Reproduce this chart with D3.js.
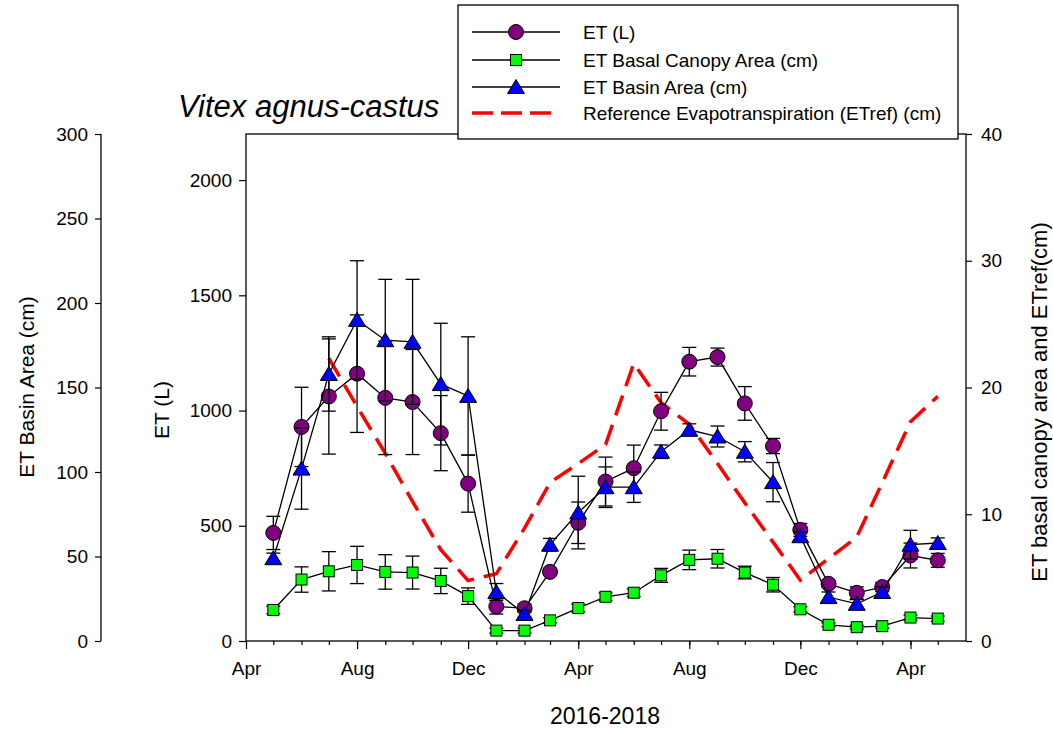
<!DOCTYPE html>
<html>
<head>
<meta charset="utf-8">
<script src="https://cdn.jsdelivr.net/npm/d3@7"></script>
<style>
  body { margin: 0; background: #fff; }
  svg { display: block; font-family: "Liberation Sans", Arial, sans-serif; }
</style>
</head>
<body>
<svg id="chart" width="1053" height="731"></svg>
<script>
// monthly sampling dates
var months = ["2016-05-01", "2016-06-01", "2016-07-01", "2016-08-01", "2016-09-01",
  "2016-10-01", "2016-11-01", "2016-12-01", "2017-01-01", "2017-02-01", "2017-03-01",
  "2017-04-01", "2017-05-01", "2017-06-01", "2017-07-01", "2017-08-01", "2017-09-01",
  "2017-10-01", "2017-11-01", "2017-12-01", "2018-01-01", "2018-02-01", "2018-03-01",
  "2018-04-01", "2018-05-01"];

// ET (L), left inner axis
var etL = [469, 929, 1061, 1160, 1055, 1037, 902, 683, 150, 142, 300, 513, 692, 750,
  997, 1212, 1232, 1031, 846, 482, 248, 209, 234, 371, 350];
var etLErr = [72, 172, 250, 255, 246, 228, 163, 124, 33, 18, 15, 90, 106, 100, 82, 62,
  39, 73, 33, 28, 15, 26, 20, 54, 30];

// ET basin area (cm), left outer axis
var basin = [49, 102, 158, 190, 178, 177, 152, 145, 29, 16, 57, 76, 91, 91, 112, 125,
  121, 112, 94, 62, 26, 22, 29, 57, 58];
var basinErr = [3, 24, 22, 35, 36, 37, 36, 35, 5, 2, 3.7, 21.5, 12, 9, 4, 3.5, 6.2, 6,
  11.6, 2.5, 3, 2.5, 3, 8.5, 3];

// ET basal canopy area (cm), right axis
var canopy = [2.45, 4.85, 5.5, 6.0, 5.45, 5.4, 4.74, 3.54, 0.82, 0.82, 1.63, 2.6, 3.49,
  3.81, 5.18, 6.4, 6.49, 5.4, 4.44, 2.5, 1.28, 1.09, 1.17, 1.85, 1.77];
var canopyErr = [0.3, 1.0, 1.55, 1.47, 1.36, 1.3, 1.0, 0.65, 0.2, 0.2, 0.2, 0.3, 0.3,
  0.3, 0.55, 0.77, 0.73, 0.5, 0.57, 0.2, 0.15, 0.15, 0.15, 0.2, 0.2];

// reference ET (cm), right axis, starts Jul 2016
var refMonths = months.slice(2);
var etRef = [22.3, 18.5, 14.8, 11.0, 7.2, 4.77, 5.3, 8.9, 12.5, 14.0, 15.5, 21.9, 18.8,
  17.1, 14.0, 10.9, 7.8, 4.8, 6.5, 8.2, 12.5, 17.3, 19.3];

var majorTicks = ["2016-04-01", "2016-08-01", "2016-12-01", "2017-04-01", "2017-08-01",
  "2017-12-01", "2018-04-01"];
var etTicks = [0, 500, 1000, 1500, 2000];
var basinTicks = [0, 50, 100, 150, 200, 250, 300];
var cmTicks = [0, 10, 20, 30, 40];

var legendLabels = ["ET (L)", "ET Basal Canopy Area (cm)", "ET Basin Area (cm)",
  "Reference Evapotranspiration (ETref) (cm)"];

var parseDate = d3.timeParse("%Y-%m-%d");
var dates = months.map(parseDate);
var refDates = refMonths.map(parseDate);

var plotL = 246, plotR = 966, plotT = 134, plotB = 641;

var x = d3.scaleTime()
  .domain([parseDate("2016-04-01"), parseDate("2018-06-01")])
  .range([plotL, plotR]);
var yET = d3.scaleLinear().domain([0, 2200]).range([plotB, plotT]);
var yBasin = d3.scaleLinear().domain([0, 300]).range([plotB, plotT]);
var yCm = d3.scaleLinear().domain([0, 40]).range([plotB, plotT]);

var svg = d3.select("#chart");

function styleAxis(g, size) {
  g.selectAll("path").remove();
  g.selectAll("line").attr("stroke", "#000").attr("stroke-width", 1.2);
  g.selectAll("text")
    .attr("fill", "#000")
    .style("font-size", size + "px")
    .style("font-family", "'Liberation Sans', Arial, sans-serif");
}

// ETref dashed line
var refLine = d3.line()
  .x(function(d, i) { return x(refDates[i]); })
  .y(function(d) { return yCm(d); });
svg.append("path")
  .datum(etRef)
  .attr("d", refLine)
  .attr("fill", "none")
  .attr("stroke", "#ff0000")
  .attr("stroke-width", 3.5)
  .attr("stroke-dasharray", "21,10");

function drawMarker(sel, kind, fx, fy) {
  if (kind === "circle") {
    sel.append("circle")
      .attr("cx", fx).attr("cy", fy).attr("r", 7.5)
      .attr("fill", "#800080").attr("stroke", "#000").attr("stroke-width", 1);
  } else if (kind === "square") {
    sel.append("rect")
      .attr("x", function(d, i) { return fx(d, i) - 5.5; })
      .attr("y", function(d, i) { return fy(d, i) - 5.5; })
      .attr("width", 11).attr("height", 11)
      .attr("fill", "#00ff00").attr("stroke", "#000").attr("stroke-width", 1);
  } else {
    sel.append("path")
      .attr("d", "M0,-7.5L8.5,6.5L-8.5,6.5Z")
      .attr("transform", function(d, i) { return "translate(" + fx(d, i) + "," + fy(d, i) + ")"; })
      .attr("fill", "#0000ff").attr("stroke", "#000").attr("stroke-width", 1);
  }
}

function series(values, errs, yScale, kind) {
  var g = svg.append("g");
  var line = d3.line()
    .x(function(d, i) { return x(dates[i]); })
    .y(function(d) { return yScale(d); });
  g.append("path")
    .datum(values)
    .attr("d", line)
    .attr("fill", "none")
    .attr("stroke", "#000")
    .attr("stroke-width", 1.3);

  // error bars with caps
  var eb = g.selectAll(".eb").data(values).enter().append("g");
  eb.append("line")
    .attr("x1", function(d, i) { return x(dates[i]); })
    .attr("x2", function(d, i) { return x(dates[i]); })
    .attr("y1", function(d, i) { return yScale(d - errs[i]); })
    .attr("y2", function(d, i) { return yScale(d + errs[i]); });
  [-1, 1].forEach(function(s) {
    eb.append("line")
      .attr("x1", function(d, i) { return x(dates[i]) - 7; })
      .attr("x2", function(d, i) { return x(dates[i]) + 7; })
      .attr("y1", function(d, i) { return yScale(d + s * errs[i]); })
      .attr("y2", function(d, i) { return yScale(d + s * errs[i]); });
  });
  eb.selectAll("line").attr("stroke", "#000").attr("stroke-width", 1.3);

  var m = g.selectAll(".m").data(values).enter();
  drawMarker(m, kind, function(d, i) { return x(dates[i]); }, function(d) { return yScale(d); });
}

series(canopy, canopyErr, yCm, "square");
series(etL, etLErr, yET, "circle");
series(basin, basinErr, yBasin, "triangle");

// plot frame
svg.append("rect")
  .attr("x", plotL).attr("y", plotT)
  .attr("width", plotR - plotL).attr("height", plotB - plotT)
  .attr("fill", "none").attr("stroke", "#000").attr("stroke-width", 1.3);

// x axis: monthly minor ticks, labelled ticks every 4 months
var gxMinor = svg.append("g")
  .attr("transform", "translate(0," + plotB + ")")
  .call(d3.axisBottom(x).tickValues(d3.timeMonth.range(x.domain()[0], x.domain()[1]))
    .tickSize(4).tickFormat(""));
styleAxis(gxMinor, 19);
var gx = svg.append("g")
  .attr("transform", "translate(0," + plotB + ")")
  .call(d3.axisBottom(x).tickValues(majorTicks.map(parseDate)).tickSize(8).tickPadding(13)
    .tickFormat(d3.timeFormat("%b")));
styleAxis(gx, 19);

// ET (L) inner left axis
var gET = svg.append("g")
  .attr("transform", "translate(" + plotL + ",0)")
  .call(d3.axisLeft(yET).tickValues(etTicks).tickSize(7).tickPadding(7)
    .tickFormat(d3.format("d")));
styleAxis(gET, 19);

// outer left axis (basin area)
var gBasin = svg.append("g")
  .attr("transform", "translate(101,0)")
  .call(d3.axisLeft(yBasin).tickValues(basinTicks).tickSize(6).tickPadding(7));
styleAxis(gBasin, 19);
gBasin.append("line").attr("x1", 0).attr("x2", 0).attr("y1", plotT).attr("y2", plotB)
  .attr("stroke", "#000").attr("stroke-width", 1.3);

// right axis
var gCm = svg.append("g")
  .attr("transform", "translate(" + plotR + ",0)")
  .call(d3.axisRight(yCm).tickValues(cmTicks).tickSize(6).tickPadding(9));
styleAxis(gCm, 19);

// axis titles
svg.append("text")
  .attr("transform", "translate(34,387) rotate(-90)")
  .attr("text-anchor", "middle").style("font-size", "21px")
  .text("ET Basin Area (cm)");
svg.append("text")
  .attr("transform", "translate(169,410) rotate(-90)")
  .attr("text-anchor", "middle").style("font-size", "21px")
  .text("ET (L)");
svg.append("text")
  .attr("transform", "translate(1047,402) rotate(-90)")
  .attr("text-anchor", "middle").style("font-size", "22px")
  .text("ET basal canopy area and ETref(cm)");
svg.append("text")
  .attr("x", 605).attr("y", 724)
  .attr("text-anchor", "middle").style("font-size", "23px")
  .text("2016-2018");

// title
svg.append("text")
  .attr("x", 178).attr("y", 117)
  .style("font-size", "31px").style("font-style", "italic")
  .text("Vitex agnus-castus");

// legend
var lg = svg.append("g");
lg.append("rect")
  .attr("x", 458).attr("y", 5).attr("width", 500).attr("height", 134)
  .attr("fill", "#fff").attr("stroke", "#000").attr("stroke-width", 1.3);
var rowY = [32, 60, 87, 113];
var kinds = ["circle", "square", "triangle", "dash"];
kinds.forEach(function(k, i) {
  var row = lg.append("g");
  if (k === "dash") {
    row.append("line").attr("x1", 472).attr("x2", 551).attr("y1", rowY[i]).attr("y2", rowY[i])
      .attr("stroke", "#ff0000").attr("stroke-width", 3.5).attr("stroke-dasharray", "21,8");
  } else {
    row.append("line").attr("x1", 472).attr("x2", 560).attr("y1", rowY[i]).attr("y2", rowY[i])
      .attr("stroke", "#000").attr("stroke-width", 1.3);
    var s = row.selectAll(".m").data([0]).enter();
    drawMarker(s, k, function() { return 516; }, function() { return rowY[i]; });
  }
  row.append("text")
    .attr("x", 583).attr("y", rowY[i]).attr("dy", "0.35em")
    .style("font-size", "19px")
    .text(legendLabels[i]);
});
</script>
</body>
</html>
